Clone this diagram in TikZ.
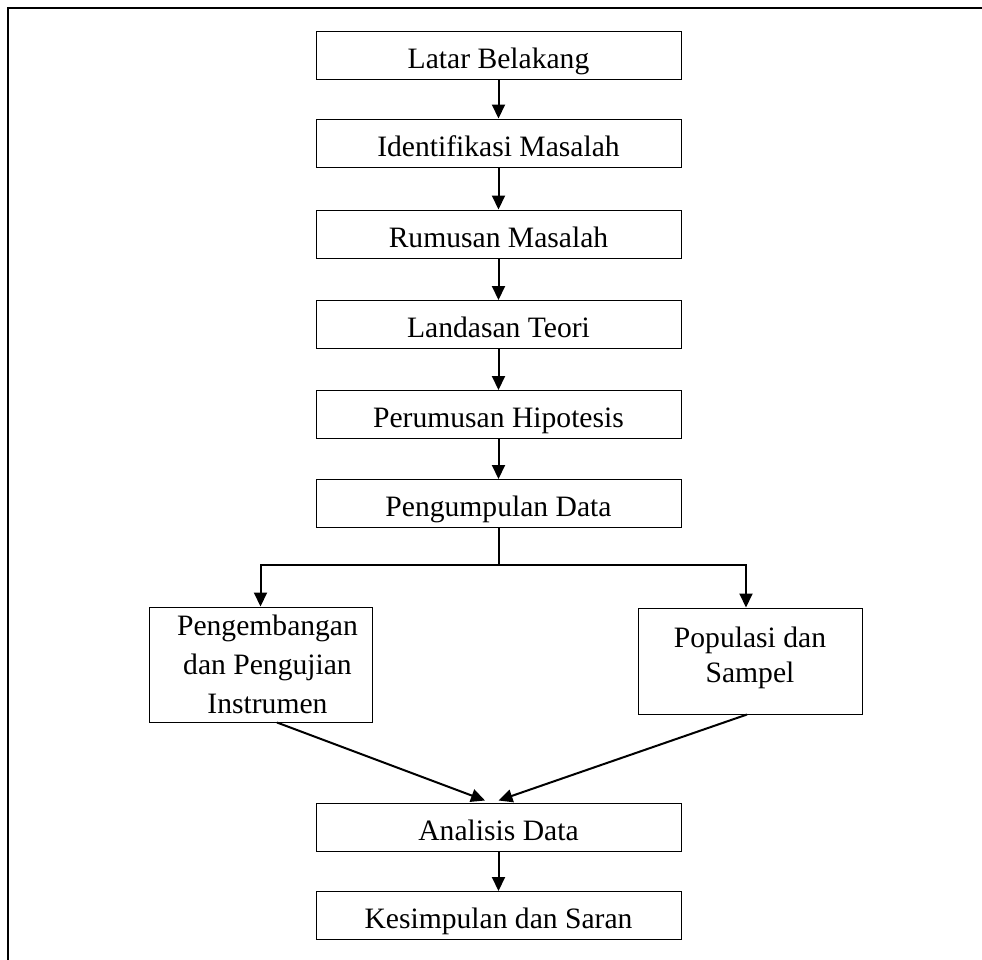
\documentclass[tikz,border=0pt]{standalone}
\usepackage{fontspec}
\setmainfont{Liberation Serif}
\usetikzlibrary{arrows.meta, positioning, calc}
\definecolor{mydark}{RGB}{0,0,0}
\tikzset{
  block/.style={rectangle, draw=mydark, fill=white,
    minimum width=182.5pt, minimum height=24pt, inner sep=0pt,
    font=\fontsize{14.8}{19.5}\selectfont, text height=13pt, text depth=0pt,
    line width=0.5pt},
  sideblock/.style={rectangle, draw=mydark, fill=white,
    minimum width=111.5pt, align=center, inner sep=0pt,
    font=\fontsize{14.8}{19.5}\selectfont, line width=0.5pt},
  arrow/.style={-{Triangle[width=6.5pt,length=7pt]}, line width=1pt, color=mydark},
  line/.style={line width=1pt, color=mydark}
}
\begin{document}
\begin{tikzpicture}[x=0.5pt, y=-0.5pt]
  \useasboundingbox (0,0) rectangle (982,960);
  % Frame
  \draw[line] (8,960) -- (8,8) -- (982,8);

  % Main steps
  \node[block] (latar) at (498.5,55) {Latar Belakang};
  \node[block] (identifikasi) at (498.5,143) {Identifikasi Masalah};
  \node[block] (rumusan) at (498.5,234) {Rumusan Masalah};
  \node[block] (landasan) at (498.5,324.5) {Landasan Teori};
  \node[block] (hipotesis) at (498.5,414.5) {Perumusan Hipotesis};
  \node[block] (pengumpulan) at (498.5,503.5) {Pengumpulan Data};

  % Branches
  \node[sideblock, minimum height=57.5pt] (pengembangan) at (260.5,664.5)
    {\hspace*{7pt}Pengembangan\\\hspace*{7pt}dan Pengujian\\\hspace*{7pt}Instrumen};
  \node[sideblock, minimum height=53pt, minimum width=112pt,
    font=\fontsize{14.8}{17.5}\selectfont, text depth=6.5pt] (populasi) at (750,661)
    {Populasi dan\\Sampel};

  % Final steps
  \node[block] (analisis) at (498.5,827) {Analisis Data};
  \node[block] (kesimpulan) at (498.5,915.5) {Kesimpulan dan Saran};

  % Edges
  \draw[arrow] (latar) -- (identifikasi);
  \draw[arrow] (identifikasi) -- (rumusan);
  \draw[arrow] (rumusan) -- (landasan);
  \draw[arrow] (landasan) -- (hipotesis);
  \draw[arrow] (hipotesis) -- (pengumpulan);
  \draw[line] (pengumpulan.south) -- ++(0,37) coordinate (split);
  \draw[arrow] (split) -| (pengembangan.north);
  \draw[arrow] (split) -| ($(populasi.north)+(-4,0)$);
  \draw[arrow] ($(pengembangan.south)+(16.5,0)$) -- ($(analisis.north)+(-13.5,-2)$);
  \draw[arrow] ($(populasi.south)+(-3,0)$) -- ($(analisis.north)+(0,-2)$);
  \draw[arrow] (analisis) -- (kesimpulan);
\end{tikzpicture}
\end{document}
